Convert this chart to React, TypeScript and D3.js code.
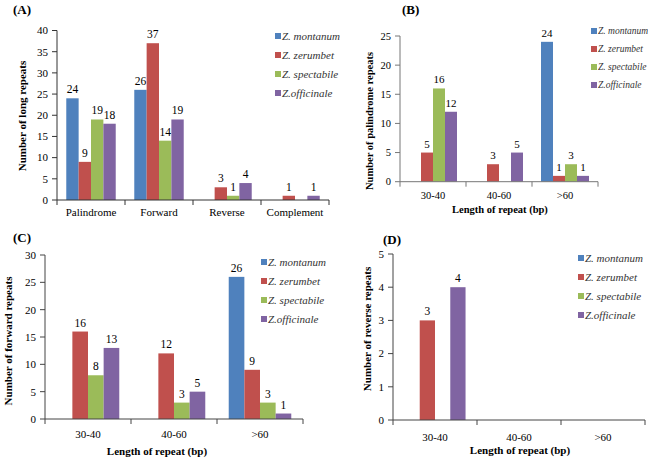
import React from "react";
import * as d3 from "d3";

const SERIES = ["Z. montanum", "Z. zerumbet", "Z. spectabile", "Z.officinale"];
const COLORS = ["#4F81BD", "#C0504D", "#9BBB59", "#8064A2"];

const CAT_A = ["Palindrome", "Forward", "Reverse", "Complement"];
const A_MONTANUM = [24, 26, 0, 0];
const A_ZERUMBET = [9, 37, 3, 1];
const A_SPECTABILE = [19, 14, 1, 0];
const A_OFFICINALE = [18, 19, 4, 1];

const CAT_LEN = ["30-40", "40-60", ">60"];
const B_MONTANUM = [0, 0, 24];
const B_ZERUMBET = [5, 3, 1];
const B_SPECTABILE = [16, 0, 3];
const B_OFFICINALE = [12, 5, 1];

const C_MONTANUM = [0, 0, 26];
const C_ZERUMBET = [16, 12, 9];
const C_SPECTABILE = [8, 3, 3];
const C_OFFICINALE = [13, 5, 1];

const D_MONTANUM = [0, 0, 0];
const D_ZERUMBET = [3, 0, 0];
const D_SPECTABILE = [0, 0, 0];
const D_OFFICINALE = [4, 0, 0];

const TICKS_A = [0, 5, 10, 15, 20, 25, 30, 35, 40];
const TICKS_B = [0, 5, 10, 15, 20, 25];
const TICKS_C = [0, 5, 10, 15, 20, 25, 30];
const TICKS_D = [0, 1, 2, 3, 4, 5];

const FONT = "\"Liberation Serif\", \"Times New Roman\", \"DejaVu Serif\", serif";

type PanelProps = {
  cats: string[];
  data: number[][];
  ticks: number[];
  x0: number; x1: number; y0: number; yTop: number;
  title: string; titleX: number; titleY: number;
  ylabel: string; ylabelX: number; ylabelY: number;
  xlabel?: string; xlabelX?: number; xlabelY?: number;
  catY: number;
  legX: number; legY: number[];
  fs?: number;
  legFs?: number;
  axis?: string;
};

function Panel(p: PanelProps) {
  const fs = p.fs ?? 11;
  const legFs = p.legFs ?? fs;
  const AXIS = p.axis ?? "#444";
  const max = p.ticks[p.ticks.length - 1];
  const y = d3.scaleLinear().domain([0, max]).range([p.y0, p.yTop]);
  const gap = 1.5 / 5.5;
  const x = d3.scaleBand<string>().domain(p.cats).range([p.x0, p.x1]).paddingInner(gap).paddingOuter(gap / 2);
  const xs = d3.scaleBand<number>().domain(d3.range(SERIES.length)).range([0, x.bandwidth()]);
  const step = x.step();
  return (
    <g>
      <text x={p.titleX} y={p.titleY} fontWeight="bold" fontSize={13}>{p.title}</text>
      {p.data.map((vals, si) =>
        vals.map((v, ci) => {
          if (!v) return null;
          const bx = (x(p.cats[ci]) as number) + (xs(si) as number);
          return (
            <g key={`${si}-${ci}`}>
              <rect x={bx} y={y(v)} width={xs.bandwidth()} height={p.y0 - y(v)} fill={COLORS[si]} />
              <text x={bx + xs.bandwidth() / 2} y={y(v) - 5} textAnchor="middle" fontSize={fs + 0.5}>{v}</text>
            </g>
          );
        })
      )}
      <line x1={p.x0} x2={p.x0} y1={p.y0} y2={p.yTop} stroke={AXIS} />
      <line x1={p.x0} x2={p.x1} y1={p.y0} y2={p.y0} stroke={AXIS} />
      {p.ticks.map((t) => (
        <g key={t}>
          <line x1={p.x0 - 5} x2={p.x0} y1={y(t)} y2={y(t)} stroke={AXIS} />
          <text x={p.x0 - 9} y={y(t)} dy="0.35em" textAnchor="end" fontSize={fs}>{t}</text>
        </g>
      ))}
      {d3.range(p.cats.length + 1).map((i) => (
        <line key={i} x1={p.x0 + i * step} x2={p.x0 + i * step} y1={p.y0} y2={p.y0 + 5} stroke={AXIS} />
      ))}
      {p.cats.map((c) => (
        <text key={c} x={(x(c) as number) + x.bandwidth() / 2} y={p.catY} textAnchor="middle" fontSize={fs}>{c}</text>
      ))}
      <text transform={`translate(${p.ylabelX},${p.ylabelY}) rotate(-90)`} textAnchor="middle" dy="0.35em" fontWeight="bold" fontSize={fs}>{p.ylabel}</text>
      {p.xlabel && (
        <text x={p.xlabelX} y={p.xlabelY} textAnchor="middle" fontWeight="bold" fontSize={fs}>{p.xlabel}</text>
      )}
      {SERIES.map((s, i) => (
        <g key={s}>
          <rect x={p.legX} y={p.legY[i] - 3} width={6} height={6} fill={COLORS[i]} />
          <text x={p.legX + 7} y={p.legY[i]} dy="0.35em" fontStyle="italic" fontSize={legFs} fill="#333">{s}</text>
        </g>
      ))}
    </g>
  );
}

export default function App() {
  return (
    <svg width={648} height={460} style={{ position: "absolute", left: 0, top: 0, background: "#fff", fontFamily: FONT }}>
      <rect width={648} height={460} fill="#fff" />
      <Panel cats={CAT_A} data={[A_MONTANUM, A_ZERUMBET, A_SPECTABILE, A_OFFICINALE]} ticks={TICKS_A}
        x0={57} x1={329} y0={200} yTop={30.5}
        title="(A)" titleX={13} titleY={14}
        ylabel="Number of long repeats" ylabelX={22.5} ylabelY={116}
        catY={216} legX={275} legY={[36, 55, 74, 93]} axis="#333" />
      <Panel cats={CAT_LEN} data={[B_MONTANUM, B_ZERUMBET, B_SPECTABILE, B_OFFICINALE]} ticks={TICKS_B}
        x0={400} x1={598} y0={181.7} yTop={36}
        title="(B)" titleX={402} titleY={14}
        ylabel="Number of palindrome repeats" ylabelX={369} ylabelY={121}
        xlabel="Length of repeat (bp)" xlabelX={500} xlabelY={213}
        catY={199} legX={591} legY={[31, 49, 67, 85]} fs={10.5} legFs={9.5} axis="#777" />
      <Panel cats={CAT_LEN} data={[C_MONTANUM, C_ZERUMBET, C_SPECTABILE, C_OFFICINALE]} ticks={TICKS_C}
        x0={45} x1={303} y0={419} yTop={255}
        title="(C)" titleX={13} titleY={242}
        ylabel="Number of forward repeats" ylabelX={8} ylabelY={341}
        xlabel="Length of repeat (bp)" xlabelX={157} xlabelY={455}
        catY={438} legX={261} legY={[262, 281, 300, 319]} />
      <Panel cats={CAT_LEN} data={[D_MONTANUM, D_ZERUMBET, D_SPECTABILE, D_OFFICINALE]} ticks={TICKS_D}
        x0={393} x1={645} y0={420} yTop={254}
        title="(D)" titleX={383} titleY={244}
        ylabel="Number of reverse repeats" ylabelX={367} ylabelY={329}
        xlabel="Length of repeat (bp)" xlabelX={520} xlabelY={454}
        catY={441} legX={578} legY={[258, 277, 296, 315]} />
    </svg>
  );
}
